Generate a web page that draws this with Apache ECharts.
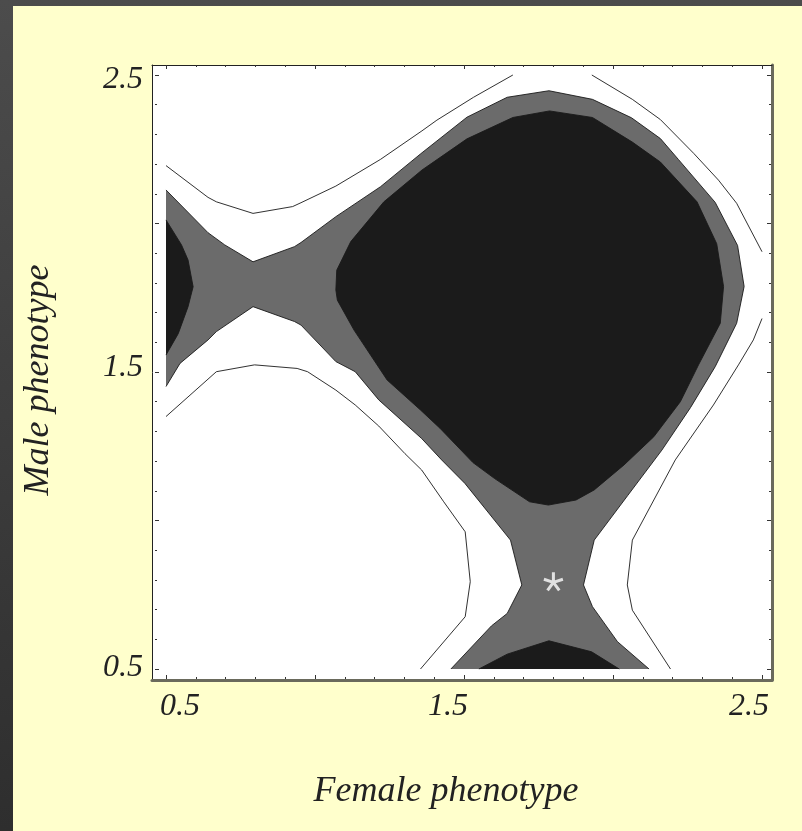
<!DOCTYPE html>
<html><head><meta charset="utf-8">
<script src="https://cdn.jsdelivr.net/npm/echarts@6/dist/echarts.min.js"></script>
<style>
html,body{margin:0;padding:0;width:802px;height:831px;overflow:hidden;background:linear-gradient(#4c4c4c,#2e2e2e);}
#chart{position:absolute;left:13px;top:6px;width:789px;height:825px;}
</style></head><body><div id="chart"></div>
<script>
// ---- data (values in data units) ----
const xTickValues = [0.5, 1.5, 2.5];
const xTickLabels = ['0.5', '1.5', '2.5'];
const yTickValues = [0.5, 1.5, 2.5];
const yTickLabels = ['0.5', '1.5', '2.5'];
const xAxisTitle = 'Female phenotype';
const yAxisTitle = 'Male phenotype';

// middle contour level: boundary of the grey region
const grayUpper = [[0.5,2.113],[0.641,1.969],[0.697,1.928],[0.792,1.871],[0.931,1.922],[0.953,1.936],[1.070,2.023],[1.220,2.124],[1.355,2.235],[1.510,2.358],[1.645,2.425],[1.785,2.447],[1.931,2.418],[2.062,2.356],[2.159,2.286],[2.220,2.215],[2.343,2.071],[2.418,1.926],[2.440,1.788],[2.415,1.664],[2.343,1.518],[2.260,1.380],[2.164,1.237],[2.050,1.085],[1.937,0.934],[1.901,0.783],[1.931,0.710],[2.015,0.592],[2.121,0.5]];
const grayLower = [[1.456,0.5],[1.592,0.645],[1.645,0.687],[1.694,0.783],[1.656,0.934],[1.503,1.125],[1.425,1.204],[1.358,1.276],[1.214,1.406],[1.135,1.501],[1.070,1.535],[0.953,1.658],[0.931,1.670],[0.792,1.720],[0.669,1.636],[0.641,1.608],[0.547,1.529],[0.5,1.451]];

// highest contour level: black regions
const blackMain = [[1.787,2.379],[1.931,2.357],[2.065,2.274],[2.159,2.207],[2.282,2.073],[2.348,1.932],[2.371,1.788],[2.360,1.664],[2.287,1.524],[2.226,1.400],[2.137,1.282],[2.037,1.187],[1.937,1.103],[1.876,1.069],[1.783,1.052],[1.720,1.063],[1.603,1.141],[1.530,1.195],[1.420,1.310],[1.354,1.372],[1.242,1.473],[1.131,1.641],[1.075,1.742],[1.070,1.776],[1.073,1.843],[1.120,1.939],[1.231,2.073],[1.359,2.180],[1.510,2.285],[1.664,2.357]];
const blackLeft = [[0.5,2.012],[0.552,1.928],[0.574,1.877],[0.591,1.787],[0.574,1.720],[0.541,1.629],[0.5,1.557]];
const blackBottom = [[1.55,0.5],[1.645,0.55],[1.785,0.595],[1.928,0.558],[2.021,0.5]];

// lowest contour level: thin lines
const outerTopLeft = [[0.5,2.195],[0.641,2.088],[0.669,2.073],[0.792,2.034],[0.925,2.057],[0.953,2.070],[1.070,2.126],[1.220,2.216],[1.359,2.312],[1.409,2.348],[1.532,2.425],[1.664,2.5]];
const outerTopRight = [[1.929,2.5],[2.065,2.418],[2.159,2.350],[2.271,2.236],[2.354,2.146],[2.415,2.068],[2.5,1.905]];
const outerRight = [[2.5,1.68],[2.471,1.608],[2.421,1.524],[2.337,1.389],[2.209,1.204],[2.065,0.934],[2.048,0.783],[2.065,0.698],[2.193,0.5]];
const outerBottomLeft = [[0.5,1.35],[0.669,1.501],[0.797,1.524],[0.940,1.512],[0.975,1.501],[1.070,1.439],[1.135,1.389],[1.214,1.318],[1.302,1.225],[1.358,1.170],[1.432,1.063],[1.504,0.962],[1.521,0.794],[1.504,0.676],[1.354,0.5]];

const starPoint = [1.80, 0.795];

// ---- chart ----
const FONT = "'Liberation Serif','Times New Roman',serif";
const GRAY = '#6b6b6b', BLACK = '#1b1b1b', LINE = '#1a1a1a';
const TICK_FS = 32;

function shapeSeries(points, kind, color) {
  return {
    type: 'custom', coordinateSystem: 'cartesian2d', xAxisIndex: 2, yAxisIndex: 2,
    silent: true, animation: false, data: [[1, 1]],
    renderItem: function (params, api) {
      const pts = points.map(p => api.coord(p));
      if (kind === 'fill') {
        return { type: 'polygon', shape: { points: pts }, style: { fill: color, stroke: null } };
      }
      if (kind === 'closed') {
        return { type: 'polygon', shape: { points: pts }, style: { fill: null, stroke: LINE, lineWidth: 0.9 } };
      }
      return { type: 'polyline', shape: { points: pts }, style: { fill: null, stroke: LINE, lineWidth: 0.9 } };
    }
  };
}

const base = { fontFamily: FONT, fontStyle: 'italic', fontSize: TICK_FS, color: '#222' };
const xRich = {
  a: Object.assign({}, base, { padding: [0, 0, 0, 28] }),
  b: Object.assign({}, base, { padding: [0, 32, 0, 0] }),
  c: Object.assign({}, base, { padding: [0, 26, 0, 0] })
};
const yRich = {
  a: Object.assign({}, base, { padding: [0, 0, 2, 0] }),
  b: Object.assign({}, base, { padding: [0, 0, 8, 0] }),
  c: Object.assign({}, base, { padding: [10, 0, 0, 0] })
};
const keys = ['a', 'b', 'c'];
function labelFor(values, labels) {
  return function (v) {
    for (let i = 0; i < values.length; i++) {
      if (Math.abs(values[i] - v) < 1e-6) return '{' + keys[i] + '|' + labels[i] + '}';
    }
    return '';
  };
}

const frameAxis = (pos, color, width) => ({
  type: 'value', gridIndex: 0, position: pos, min: 0, max: 1,
  axisLine: { show: true, onZero: false, lineStyle: { color: color, width: width } },
  axisTick: { show: false }, axisLabel: { show: false }, splitLine: { show: false }
});
const tickAxisCommon = {
  type: 'value', gridIndex: 1, min: 0.5, max: 2.5, interval: 0.5,
  axisLine: { show: false, onZero: false },
  axisTick: { show: true, inside: true, length: 4, lineStyle: { color: '#333', width: 1 } },
  minorTick: { show: true, splitNumber: 5, length: 2, lineStyle: { color: '#333', width: 1 } },
  splitLine: { show: false }, minorSplitLine: { show: false }
};

const option = {
  backgroundColor: '#ffffcc',
  animation: false,
  grid: [
    { left: 139, top: 59, width: 620, height: 615, show: true, backgroundColor: '#ffffff', borderWidth: 0 },
    { left: 150, top: 69, width: 599, height: 594 }
  ],
  xAxis: [
    frameAxis('bottom', '#6a6a5c', 3),
    frameAxis('top', '#222', 1),
    Object.assign({}, tickAxisCommon, {
      position: 'bottom', offset: 10,
      axisLabel: { show: true, margin: 12, formatter: labelFor(xTickValues, xTickLabels), rich: xRich },
      name: xAxisTitle, nameLocation: 'middle', nameGap: 95,
      nameTextStyle: { fontFamily: FONT, fontStyle: 'italic', fontSize: 36, color: '#222', padding: [0, 36, 0, 0] }
    }),
    Object.assign({}, tickAxisCommon, { position: 'top', offset: 10, axisLabel: { show: false } })
  ],
  yAxis: [
    frameAxis('left', '#222', 1),
    frameAxis('right', '#6a6a5c', 3),
    Object.assign({}, tickAxisCommon, {
      position: 'left', offset: 11,
      axisLabel: { show: true, margin: 12, formatter: labelFor(yTickValues, yTickLabels), rich: yRich },
      name: yAxisTitle, nameLocation: 'middle', nameGap: 98, nameRotate: 90,
      nameTextStyle: { fontFamily: FONT, fontStyle: 'italic', fontSize: 36, color: '#222', padding: [0, 16, 0, 0] }
    }),
    Object.assign({}, tickAxisCommon, { position: 'right', offset: 9, axisLabel: { show: false } })
  ],
  series: [
    shapeSeries(grayUpper.concat(grayLower), 'fill', GRAY),
    shapeSeries(blackMain, 'fill', BLACK),
    shapeSeries(blackLeft, 'fill', BLACK),
    shapeSeries(blackBottom, 'fill', BLACK),
    shapeSeries(grayUpper, 'line'),
    shapeSeries(grayLower, 'line'),
    shapeSeries(blackMain, 'closed'),
    shapeSeries(blackLeft, 'line'),
    shapeSeries(blackBottom, 'line'),
    shapeSeries(outerTopLeft, 'line'),
    shapeSeries(outerTopRight, 'line'),
    shapeSeries(outerRight, 'line'),
    shapeSeries(outerBottomLeft, 'line'),
    {
      type: 'scatter', xAxisIndex: 2, yAxisIndex: 2, silent: true, animation: false,
      data: [starPoint],
      symbol: 'path://M0,0L0,-1M0,0L0.951,-0.309M0,0L-0.951,-0.309M0,0L0.588,0.809M0,0L-0.588,0.809',
      symbolKeepAspect: true, symbolSize: 19,
      itemStyle: { color: 'rgba(0,0,0,0)', borderColor: '#ffffff', borderWidth: 3 }
    }
  ]
};
const chart = echarts.init(document.getElementById('chart'), null, { renderer: 'canvas' });
chart.setOption(option);
</script></body></html>
